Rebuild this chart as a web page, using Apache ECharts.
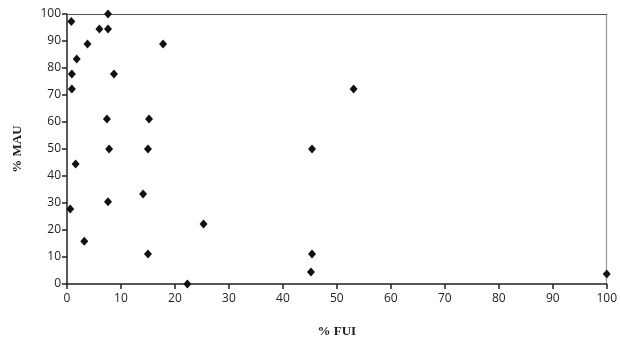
<!DOCTYPE html>
<html><head><meta charset="utf-8">
<script src="https://cdn.jsdelivr.net/npm/echarts@6/dist/echarts.min.js"></script>
<style>html,body{margin:0;padding:0;background:#fff}#c{width:620px;height:344px}</style>
</head><body><div id="c"></div>
<script>
var fuiValues = [0.8, 7.6, 6.0, 7.6, 3.8, 17.8, 1.8, 0.9, 8.7, 0.9, 53.1, 7.4, 15.2, 7.8, 15.0, 45.4, 1.6, 14.1, 7.6, 0.6, 25.3, 3.2, 15.0, 45.4, 45.2, 22.3, 100];
var mauValues = [97.2, 100, 94.4, 94.4, 88.9, 88.9, 83.3, 77.8, 77.8, 72.2, 72.2, 61.1, 61.1, 50, 50, 50, 44.4, 33.3, 30.5, 27.8, 22.2, 15.8, 11.1, 11.1, 4.4, 0, 3.7];
var xTitle = '% FUI';
var yTitle = '% MAU';

var points = fuiValues.map(function (x, i) { return [x, mauValues[i]]; });
var labelFont = {color: '#222', fontSize: 12, fontFamily: 'Open Sans, Noto Sans, sans-serif'};
var titleFont = {color: '#222', fontSize: 13, fontWeight: 'bold', fontFamily: 'Liberation Serif, DejaVu Serif, serif'};
var chart = echarts.init(document.getElementById('c'), null, {renderer: 'canvas'});
chart.setOption({
  animation: false,
  backgroundColor: '#fff',
  grid: {left: 67, right: 10, top: 14, bottom: 60, containLabel: false},
  xAxis: [{
    type: 'value', min: 0, max: 100, interval: 10, position: 'bottom',
    name: xTitle, nameLocation: 'middle', nameGap: 41, nameTextStyle: titleFont,
    axisLine: {show: true, lineStyle: {color: '#222', width: 1.5}},
    axisTick: {show: true, length: 5, lineStyle: {color: '#222', width: 1.5}},
    axisLabel: Object.assign({margin: 9}, labelFont),
    splitLine: {show: false}
  }, {
    type: 'value', min: 0, max: 100, position: 'top',
    axisLine: {show: true, onZero: false, lineStyle: {color: '#555', width: 1.2}},
    axisTick: {show: false}, axisLabel: {show: false}, splitLine: {show: false}
  }],
  yAxis: [{
    type: 'value', min: 0, max: 100, interval: 10, position: 'left',
    name: yTitle, nameLocation: 'middle', nameGap: 43, nameTextStyle: titleFont,
    axisLine: {show: true, lineStyle: {color: '#222', width: 1.5}},
    axisTick: {show: true, length: 5, lineStyle: {color: '#222', width: 1.5}},
    axisLabel: Object.assign({margin: 6}, labelFont),
    splitLine: {show: false}
  }, {
    type: 'value', min: 0, max: 100, position: 'right',
    axisLine: {show: true, onZero: false, lineStyle: {color: '#999', width: 1.2}},
    axisTick: {show: false}, axisLabel: {show: false}, splitLine: {show: false}
  }],
  series: [{
    type: 'scatter',
    xAxisIndex: 0, yAxisIndex: 0,
    data: points,
    symbol: 'diamond',
    symbolSize: [8, 9],
    clip: false,
    itemStyle: {color: '#111', opacity: 1}
  }]
});
</script></body></html>
